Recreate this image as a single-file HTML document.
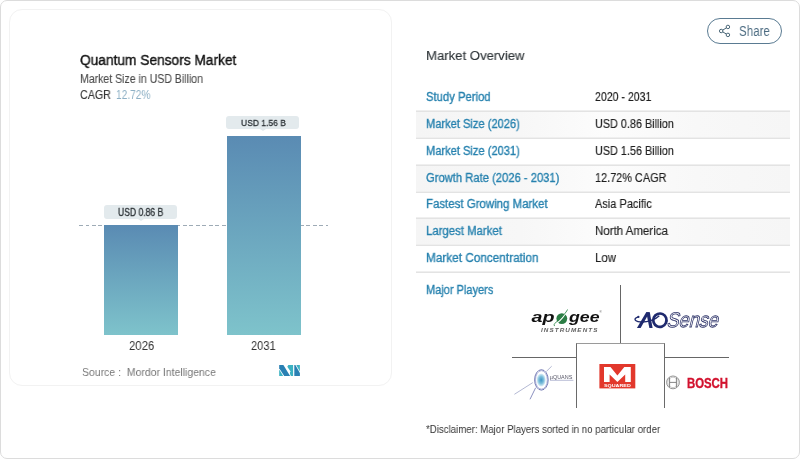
<!DOCTYPE html>
<html><head><meta charset="utf-8"><style>
*{margin:0;padding:0;box-sizing:border-box}
html,body{width:800px;height:459px;overflow:hidden;background:#fff}
body{position:relative;font-family:"Liberation Sans",sans-serif}
.t{position:absolute;white-space:pre;transform-origin:0 0;will-change:transform}
.abs{position:absolute}
svg.abs{will-change:transform}
</style></head><body>
<div class="abs" style="left:0;top:0;width:800px;height:459px;border:1.5px solid #dcdcdc;border-radius:7px"></div>
<div class="abs" style="left:9px;top:9px;width:382.5px;height:377px;border:1px solid #f2f2f2;border-radius:13px"></div>
<!-- chart -->
<div class="abs" style="left:79px;top:224.5px;width:249px;height:1px;background:repeating-linear-gradient(90deg,#9eabb6 0 4px,transparent 4px 6.5px)"></div>
<div class="abs" style="left:104px;top:225px;width:74px;height:109.6px;background:linear-gradient(#5a8bb3,#7ec3cb)"></div>
<div class="abs" style="left:227.3px;top:135.6px;width:73.5px;height:199px;background:linear-gradient(#5a8bb3,#7ec3cb)"></div>
<div class="abs" style="left:104px;top:205.4px;width:73px;height:13.2px;background:#e3eaed;border-radius:3px"></div>
<div class="abs" style="left:138px;top:218.5px;width:0;height:0;border-left:3px solid transparent;border-right:3px solid transparent;border-top:2.5px solid #e3eaed"></div>
<div class="abs" style="left:226.2px;top:116.2px;width:72.5px;height:12.5px;background:#e3eaed;border-radius:3px"></div>
<div class="abs" style="left:260px;top:128.6px;width:0;height:0;border-left:3px solid transparent;border-right:3px solid transparent;border-top:2.5px solid #e3eaed"></div>
<!-- share button -->
<div class="abs" style="left:707px;top:18px;width:74.6px;height:26.3px;border:1.2px solid #5a7b92;border-radius:13px"></div>
<svg class="abs" style="left:716px;top:22px" width="18" height="18" viewBox="0 0 18 18">
<g fill="none" stroke="#3f5e70" stroke-width="0.95">
<circle cx="11.9" cy="4.95" r="1.75"/><circle cx="5.2" cy="9" r="1.75"/><circle cx="11.9" cy="12.9" r="1.75"/>
<line x1="6.7" y1="8.1" x2="10.4" y2="5.9"/><line x1="6.7" y1="9.9" x2="10.4" y2="12"/>
</g></svg>
<!-- table row bgs -->
<div class="abs" style="left:416px;top:112px;width:374px;height:25px;background:linear-gradient(90deg,#f5f5f5,#f7f7f7 28%,#fcfcfc 50%,#f8f8f8 75%,#f6f6f6)"></div><div class="abs" style="left:416px;top:166px;width:374px;height:25px;background:linear-gradient(90deg,#f5f5f5,#f7f7f7 28%,#fcfcfc 50%,#f8f8f8 75%,#f6f6f6)"></div><div class="abs" style="left:416px;top:219px;width:374px;height:25px;background:linear-gradient(90deg,#f5f5f5,#f7f7f7 28%,#fcfcfc 50%,#f8f8f8 75%,#f6f6f6)"></div>
<!-- table separators -->
<div class="abs" style="left:416px;top:110px;width:374px;height:2px;background:linear-gradient(#efefef 50%,#e3e3e3 50%)"></div><div class="abs" style="left:416px;top:137px;width:374px;height:2px;background:linear-gradient(#efefef 50%,#e3e3e3 50%)"></div><div class="abs" style="left:416px;top:164px;width:374px;height:2px;background:linear-gradient(#efefef 50%,#e3e3e3 50%)"></div><div class="abs" style="left:416px;top:191px;width:374px;height:2px;background:linear-gradient(#efefef 50%,#e3e3e3 50%)"></div><div class="abs" style="left:416px;top:217px;width:374px;height:2px;background:linear-gradient(#efefef 50%,#e3e3e3 50%)"></div><div class="abs" style="left:416px;top:244px;width:374px;height:2px;background:linear-gradient(#efefef 50%,#e3e3e3 50%)"></div><div class="abs" style="left:416px;top:271px;width:374px;height:2px;background:linear-gradient(#efefef 50%,#e3e3e3 50%)"></div>
<!-- player grid lines -->
<div class="abs" style="left:620px;top:285.4px;width:1.2px;height:57.5px;background:#666"></div>
<div class="abs" style="left:576px;top:342.6px;width:89px;height:65px;border:1.2px solid #6a6a6a;border-top-color:#9a9a9a;border-bottom:none"></div>
<div class="abs" style="left:511.6px;top:357px;width:64.5px;height:1.2px;background:#666"></div>
<div class="abs" style="left:664.5px;top:357px;width:64px;height:1.2px;background:#666"></div>
<!-- apogee -->
<svg class="abs" style="left:520px;top:300px" width="100" height="40" viewBox="520 300 100 40">
<text x="531.5" y="322.2" font-family="Liberation Sans" font-weight="bold" font-style="italic" font-size="15.5" fill="#111" textLength="23" lengthAdjust="spacingAndGlyphs">ap</text>
<circle cx="561.8" cy="318.6" r="5.4" fill="#2b7d45"/>
<path d="M556.5 323.5 C 560 321, 565 315, 567.5 310" stroke="#fff" stroke-width="1.1" fill="none"/>
<path d="M555 325.5 C 552 326, 556 322, 560 318.5 S 567 311, 567.5 309.5" stroke="#2f8a4a" stroke-width="0.9" fill="none"/>
<text x="569" y="322.2" font-family="Liberation Sans" font-weight="bold" font-style="italic" font-size="15.5" fill="#111" textLength="30.5" lengthAdjust="spacingAndGlyphs">gee</text>
<text x="599.5" y="313" font-family="Liberation Sans" font-size="3" fill="#333">®</text>
<g transform="translate(541 331.9) scale(1.4 1)"><text x="0" y="0" font-family="Liberation Sans" font-weight="bold" font-style="italic" font-size="4.5" fill="#606060" textLength="40.3" lengthAdjust="spacing">INSTRUMENTS</text></g>
</svg>
<!-- AOSense -->
<svg class="abs" style="left:628px;top:304px" width="100" height="30" viewBox="628 304 100 30">
<polygon points="636.9,328 640.6,328 649.6,312.2 646.2,312.2" fill="#1f2a6e"/>
<polygon points="646.2,312.2 649.8,312.2 652.6,328 649.4,328" fill="#1f2a6e"/>
<ellipse cx="659.9" cy="320.2" rx="6.6" ry="6.7" transform="rotate(25 659.9 320.2)" fill="none" stroke="#1f2a6e" stroke-width="2.7"/>
<path d="M638.4 316.9 C 633.5 318.2, 633.8 321.4, 640 321.9 C 647 322.5, 655 320.2, 659.3 315.8" fill="none" stroke="#1f2a6e" stroke-width="1.3"/>
<circle cx="638.4" cy="316.9" r="1.1" fill="#1f2a6e"/>
<text x="666.2" y="327.5" transform="translate(0 327.5) skewX(-14) translate(0 -327.5)" font-family="Liberation Sans" font-size="21" fill="#fff" stroke="#2c3268" stroke-width="0.85" textLength="51.5" lengthAdjust="spacingAndGlyphs">Sense</text>
</svg>
<!-- M Squared -->
<svg class="abs" style="left:596px;top:360px" width="44" height="32" viewBox="596 360 44 32">
<rect x="599.4" y="364" width="35.9" height="24.4" fill="#e2382c"/>
<polygon points="604,367 610.5,367 617.4,375.5 624.3,367 630.8,367 630.8,382 625.2,382 625.2,374.5 617.4,382 609.6,374.5 609.6,382 604,382" fill="#fff"/>
<text x="604" y="386.9" font-family="Liberation Sans" font-weight="bold" font-size="2.9" fill="#fff" textLength="26.8" lengthAdjust="spacingAndGlyphs">SQUARED</text>
</svg>
<!-- Bosch -->
<svg class="abs" style="left:662px;top:372px" width="70" height="22" viewBox="662 372 70 22">
<circle cx="673" cy="382.4" r="6.4" fill="none" stroke="#777" stroke-width="0.8"/>
<circle cx="673" cy="382.4" r="5.2" fill="none" stroke="#999" stroke-width="0.5"/>
<path d="M669.6 377.6 V 387.2 M676.4 377.6 V 387.2 M669.6 382.4 H 676.4" stroke="#777" stroke-width="0.9" fill="none"/>
<text x="686.9" y="387.6" font-family="Liberation Sans" font-weight="bold" font-size="14.6" fill="#d2122e" stroke="#d2122e" stroke-width="0.35" textLength="41.2" lengthAdjust="spacingAndGlyphs">BOSCH</text>
</svg>
<!-- Quans -->
<svg class="abs" style="left:510px;top:362px" width="68" height="42" viewBox="510 362 68 42">
<defs><radialGradient id="qg"><stop offset="0" stop-color="#3f95c4"/><stop offset="0.55" stop-color="#7fc0dc"/><stop offset="1" stop-color="#e8f4fa"/></radialGradient></defs>
<ellipse cx="541.2" cy="380" rx="4.6" ry="6.6" fill="url(#qg)"/>
<g fill="none" stroke="#3e4796" stroke-width="0.7">
<ellipse cx="541.4" cy="379.9" rx="6.8" ry="10.2" />
<ellipse cx="541.4" cy="379.9" rx="5.9" ry="9.2" stroke="#6a74bb" stroke-width="0.5"/>
<line x1="514.4" y1="394.3" x2="532.8" y2="382.6" stroke="#7f88b5" stroke-width="0.6"/>
<line x1="530" y1="399.3" x2="535.6" y2="387.8" stroke-width="0.6"/>
<line x1="546.4" y1="371.4" x2="551.7" y2="366.2" stroke="#7f88b5" stroke-width="0.6"/>
<line x1="550" y1="380.3" x2="573.4" y2="380.3" stroke="#8a90b8" stroke-width="0.6"/>
</g>
<text x="549.8" y="378.9" font-family="Liberation Sans" font-size="4.8" fill="#556" textLength="22.5" lengthAdjust="spacingAndGlyphs">µQUANS</text>
</svg>
<!-- MI logo -->
<svg class="abs" style="left:278px;top:364px" width="24" height="13" viewBox="278 364 24 13">
<polygon points="279.2,365 283.4,365 290.1,375.9 284.2,375.9 279.2,368.2" fill="#2a80b3"/>
<polygon points="279.2,369.6 283.2,375.9 279.2,375.9" fill="#3bb2c2"/>
<polygon points="288.3,365 293.1,365 293.1,375.9 290.9,375.9 290.2,374.6 289.9,372.6 290.6,371.6 287.3,366.7" fill="#3bb2c2"/>
<polygon points="294.3,365 295.4,365 299.9,372.9 299.9,375.9 294.3,375.9" fill="#2a80b3"/>
<polygon points="296.3,365 299.9,365 299.9,371.4" fill="#3bb2c2"/>
</svg>

<div class="t" style="left:80.00px;top:53px;font-size:14.53px;line-height:14.53px;color:#141414;transform:scaleX(0.9456);-webkit-text-stroke:0.4px #141414;">Quantum Sensors Market</div>
<div class="t" style="left:80.00px;top:73px;font-size:12.21px;line-height:12.21px;color:#4a4a4a;transform:scaleX(0.8632);-webkit-text-stroke:0.1px #4a4a4a;">Market Size in USD Billion</div>
<div class="t" style="left:80.00px;top:89px;font-size:12.06px;line-height:12.06px;color:#383838;transform:scaleX(0.8894);-webkit-text-stroke:0.1px #383838;">CAGR</div>
<div class="t" style="left:116.30px;top:89px;font-size:12.06px;line-height:12.06px;color:#8db0c5;transform:scaleX(0.8407);">12.72%</div>
<div class="t" style="left:240.80px;top:118px;font-size:9.88px;line-height:9.88px;color:#2b3135;transform:scaleX(0.8622);-webkit-text-stroke:0.3px #2b3135;">USD 1.56 B</div>
<div class="t" style="left:117.80px;top:208px;font-size:10.03px;line-height:10.03px;color:#2b3135;transform:scaleX(0.8554);-webkit-text-stroke:0.3px #2b3135;">USD 0.86 B</div>
<div class="t" style="left:128.50px;top:340px;font-size:12.79px;line-height:12.79px;color:#333333;transform:scaleX(0.8926);">2026</div>
<div class="t" style="left:251.25px;top:340px;font-size:12.79px;line-height:12.79px;color:#333333;transform:scaleX(0.8698);">2031</div>
<div class="t" style="left:81.70px;top:366px;font-size:11.63px;line-height:11.63px;color:#777777;transform:scaleX(0.9008);">Source :  Mordor Intelligence</div>
<div class="t" style="left:425.90px;top:49px;font-size:13.66px;line-height:13.66px;color:#30363a;transform:scaleX(0.9620);-webkit-text-stroke:0.15px #30363a;">Market Overview</div>
<div class="t" style="left:425.60px;top:91px;font-size:12.50px;line-height:12.50px;color:#2581ae;transform:scaleX(0.9026);-webkit-text-stroke:0.35px #2581ae;">Study Period</div>
<div class="t" style="left:595.10px;top:91px;font-size:12.50px;line-height:12.50px;color:#1e1e1e;transform:scaleX(0.8453);-webkit-text-stroke:0.15px #1e1e1e;">2020 - 2031</div>
<div class="t" style="left:425.60px;top:118px;font-size:12.50px;line-height:12.50px;color:#2581ae;transform:scaleX(0.8883);-webkit-text-stroke:0.35px #2581ae;">Market Size (2026)</div>
<div class="t" style="left:595.10px;top:118px;font-size:12.50px;line-height:12.50px;color:#1e1e1e;transform:scaleX(0.8669);-webkit-text-stroke:0.15px #1e1e1e;">USD 0.86 Billion</div>
<div class="t" style="left:425.60px;top:145px;font-size:12.50px;line-height:12.50px;color:#2581ae;transform:scaleX(0.8883);-webkit-text-stroke:0.35px #2581ae;">Market Size (2031)</div>
<div class="t" style="left:595.10px;top:145px;font-size:12.50px;line-height:12.50px;color:#1e1e1e;transform:scaleX(0.8669);-webkit-text-stroke:0.15px #1e1e1e;">USD 1.56 Billion</div>
<div class="t" style="left:425.60px;top:172px;font-size:12.50px;line-height:12.50px;color:#2581ae;transform:scaleX(0.8972);-webkit-text-stroke:0.35px #2581ae;">Growth Rate (2026 - 2031)</div>
<div class="t" style="left:595.10px;top:172px;font-size:12.50px;line-height:12.50px;color:#1e1e1e;transform:scaleX(0.8709);-webkit-text-stroke:0.15px #1e1e1e;">12.72% CAGR</div>
<div class="t" style="left:425.60px;top:198px;font-size:12.50px;line-height:12.50px;color:#2581ae;transform:scaleX(0.9165);-webkit-text-stroke:0.35px #2581ae;">Fastest Growing Market</div>
<div class="t" style="left:595.10px;top:198px;font-size:12.50px;line-height:12.50px;color:#1e1e1e;transform:scaleX(0.8807);-webkit-text-stroke:0.15px #1e1e1e;">Asia Pacific</div>
<div class="t" style="left:425.60px;top:225px;font-size:12.50px;line-height:12.50px;color:#2581ae;transform:scaleX(0.9092);-webkit-text-stroke:0.35px #2581ae;">Largest Market</div>
<div class="t" style="left:595.10px;top:225px;font-size:12.50px;line-height:12.50px;color:#1e1e1e;transform:scaleX(0.9205);-webkit-text-stroke:0.15px #1e1e1e;">North America</div>
<div class="t" style="left:425.60px;top:252px;font-size:12.50px;line-height:12.50px;color:#2581ae;transform:scaleX(0.9422);-webkit-text-stroke:0.35px #2581ae;">Market Concentration</div>
<div class="t" style="left:595.10px;top:252px;font-size:12.50px;line-height:12.50px;color:#1e1e1e;transform:scaleX(0.9114);-webkit-text-stroke:0.15px #1e1e1e;">Low</div>
<div class="t" style="left:425.90px;top:284px;font-size:12.65px;line-height:12.65px;color:#2581ae;transform:scaleX(0.8713);-webkit-text-stroke:0.35px #2581ae;">Major Players</div>
<div class="t" style="left:425.90px;top:424px;font-size:11.48px;line-height:11.48px;color:#333333;transform:scaleX(0.8428);">*Disclaimer: Major Players sorted in no particular order</div>
<div class="t" style="left:739.00px;top:24px;font-size:14.83px;line-height:14.83px;color:#4a6a80;transform:scaleX(0.7785);">Share</div>

</body></html>
